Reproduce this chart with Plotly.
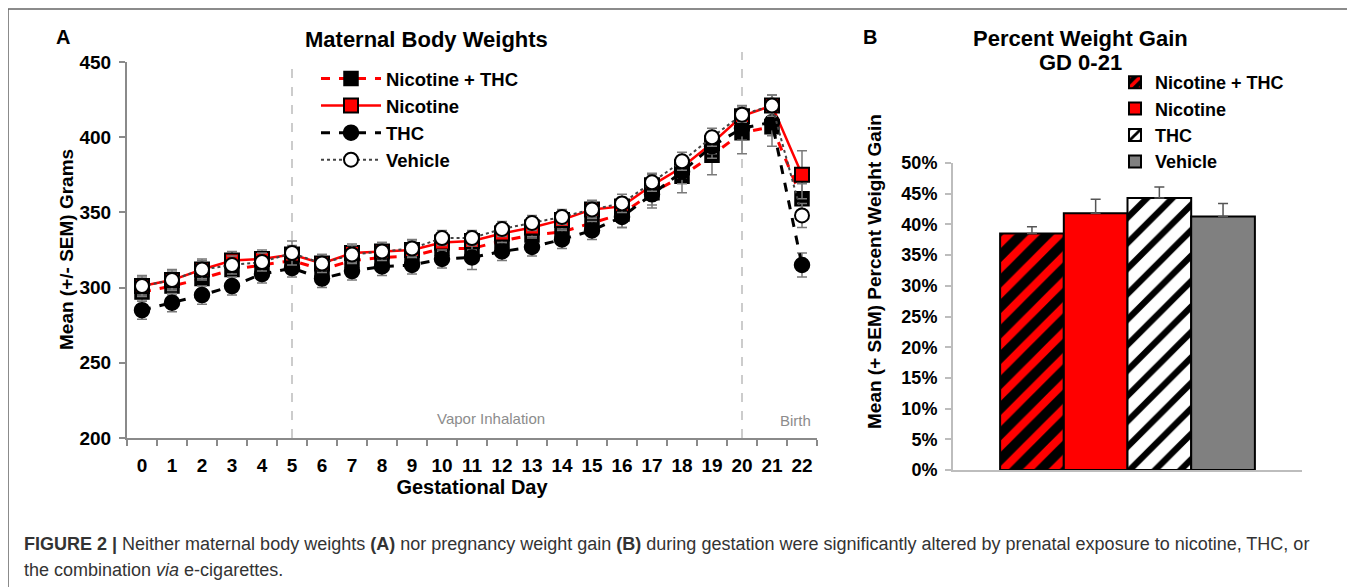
import plotly.graph_objects as go

# Panel A: maternal body weights by gestational day (grams)
days = list(range(23))
nic_thc = [297, 301, 306, 312, 315, 318, 312, 318, 320, 321, 326, 326, 331, 335, 337, 343, 349, 363, 374, 388, 403, 407, 359]
nic_thc_sem = [6, 6, 7, 7, 7, 8, 7, 7, 7, 7, 7, 10, 7, 7, 7, 8, 9, 10, 11, 13, 14, 13, 10]
nicotine = [301, 305, 312, 318, 319, 322, 316, 323, 324, 325, 330, 331, 336, 340, 345, 352, 354, 368, 380, 396, 414, 421, 375]
nicotine_sem = [6, 6, 6, 6, 6, 6, 6, 6, 6, 6, 6, 6, 6, 6, 6, 6, 6, 7, 7, 7, 7, 7, 16]
thc = [285, 290, 295, 301, 309, 313, 306, 311, 314, 315, 319, 320, 324, 327, 332, 338, 347, 362, 377, 394, 406, 410, 315]
thc_sem = [6, 6, 6, 6, 6, 6, 6, 6, 6, 6, 6, 8, 6, 6, 6, 6, 7, 7, 8, 8, 8, 9, 8]
vehicle = [301, 305, 312, 315, 317, 323, 316, 322, 324, 326, 333, 333, 339, 343, 347, 352, 356, 370, 384, 400, 415, 421, 348]
vehicle_sem = [7, 7, 7, 6, 6, 8, 6, 6, 6, 6, 5, 5, 5, 5, 5, 5, 6, 6, 6, 6, 5, 7, 8]

# Panel B: percent weight gain GD 0-21
groups = ["Nicotine + THC", "Nicotine", "THC", "Vehicle"]
pct_gain = [0.385, 0.418, 0.443, 0.413]
pct_sem = [0.011, 0.023, 0.018, 0.021]

W, H = 1355, 587
OFF = 8  # page body margin
FONT = "Liberation Sans, Arial, sans-serif"
AXIS_GRAY = "#8a8a8a"
ERR_GRAY = "#7a7a7a"


def px_x(v):
    return (v - OFF) / W


def px_y(v):
    return 1 - (v - OFF) / H


fig = go.Figure()

series = [
    ("Nicotine + THC", nic_thc, nic_thc_sem, dict(color="#ff0000", width=3, dash="dash"),
     dict(symbol="square", size=14, color="black", line=dict(color="black", width=1.5))),
    ("Nicotine", nicotine, nicotine_sem, dict(color="#ff0000", width=2.5),
     dict(symbol="square", size=14, color="#ff0000", line=dict(color="black", width=2))),
    ("THC", thc, thc_sem, dict(color="black", width=3, dash="dash"),
     dict(symbol="circle", size=15, color="black", line=dict(color="black", width=1.5))),
    ("Vehicle", vehicle, vehicle_sem, dict(color="#444444", width=2, dash="dot"),
     dict(symbol="circle", size=14, color="white", line=dict(color="black", width=2))),
]
for name, vals, sem, line, marker in series:
    fig.add_trace(go.Scatter(
        x=days, y=vals, name=name, mode="lines+markers",
        line=line, marker=marker,
        error_y=dict(type="data", array=sem, color=ERR_GRAY, thickness=1.5, width=5),
        xaxis="x", yaxis="y", legend="legend",
    ))

fills = [
    dict(color="black", pattern=dict(shape="/", fgcolor="#ff0000", bgcolor="black", fgopacity=1, size=18, solidity=0.45)),
    dict(color="#ff0000"),
    dict(color="white", pattern=dict(shape="/", fgcolor="black", bgcolor="white", fgopacity=1, size=18, solidity=0.35)),
    dict(color="#808080"),
]
for name, val, sem, fill in zip(groups, pct_gain, pct_sem, fills):
    fig.add_trace(go.Bar(
        x=["GD 0-21"], y=[val], name=name,
        marker=dict(line=dict(color="black", width=2), **fill),
        error_y=dict(type="data", array=[sem], arrayminus=[0], symmetric=False,
                     color="#555555", thickness=1.5, width=5),
        xaxis="x2", yaxis="y2", legend="legend2",
    ))

tick_a = dict(family=FONT, size=19, color="black", weight="bold")
tick_b = dict(family=FONT, size=18, color="black", weight="bold")

fig.update_layout(
    width=W, height=H, autosize=False,
    margin=dict(l=0, r=0, t=0, b=0, autoexpand=False),
    paper_bgcolor="white", plot_bgcolor="white",
    font=dict(family=FONT, color="black"),
    barmode="group", bargap=0.27, bargroupgap=0,
    xaxis=dict(
        domain=[px_x(127), px_x(817)], range=[-0.5, 22.5], anchor="y", automargin=False,
        tickmode="array", tickvals=days, ticks="", ticklabelstandoff=9,
        tickfont=tick_a, showgrid=False, zeroline=False,
        showline=True, linecolor=AXIS_GRAY, linewidth=2,
        minor=dict(ticks="outside", tick0=-0.5, dtick=1, ticklen=6, tickcolor=AXIS_GRAY, tickwidth=2, showgrid=False),
        title=dict(text="Gestational Day", font=dict(family=FONT, size=20, color="black", weight="bold"), standoff=2),
    ),
    yaxis=dict(
        domain=[px_y(438), px_y(62)], range=[200, 450], dtick=50, anchor="x", automargin=False,
        ticks="outside", ticklen=6, tickcolor=AXIS_GRAY, tickwidth=2,
        ticklabelstandoff=4, tickfont=tick_a, showgrid=False, zeroline=False,
        showline=True, linecolor=AXIS_GRAY, linewidth=2,
    ),
    xaxis2=dict(
        domain=[px_x(953), px_x(1302)], anchor="y2", automargin=False, showticklabels=False, ticks="",
        showline=True, linecolor="#bdbdbd", linewidth=2, showgrid=False, zeroline=False,
    ),
    yaxis2=dict(
        domain=[px_y(470), px_y(163)], range=[0, 0.5], dtick=0.05, tickformat=".0%",
        anchor="x2", automargin=False,
        ticks="outside", ticklen=6, tickcolor="#bdbdbd", tickwidth=2,
        ticklabelstandoff=4, tickfont=tick_b, showgrid=False, zeroline=False,
        showline=True, linecolor="#bdbdbd", linewidth=2,
    ),
    legend=dict(
        x=px_x(316), y=px_y(60), xanchor="left", yanchor="top",
        bgcolor="rgba(0,0,0,0)", font=dict(family=FONT, size=18.5, weight="bold"),
        itemwidth=60, tracegroupgap=0,
    ),
    legend2=dict(
        x=px_x(1115), y=px_y(64), xanchor="left", yanchor="top",
        bgcolor="rgba(0,0,0,0)", font=dict(family=FONT, size=18, weight="bold"),
        itemwidth=30, tracegroupgap=0,
    ),
)


def label(text, x, y, size, color="black", angle=0, xanchor="center"):
    fig.add_annotation(text=text, x=px_x(x), y=px_y(y), xref="paper", yref="paper",
                       xanchor=xanchor, yanchor="middle", textangle=angle, showarrow=False,
                       font=dict(family=FONT, size=size, color=color))


label("<b>A</b>", 63, 37, 20)
label("<b>Maternal Body Weights</b>", 427, 39, 22)
label("<b>B</b>", 870, 37, 20)
label("<b>Percent Weight Gain</b>", 1080, 38, 22)
label("<b>GD 0-21</b>", 1080, 63, 22)
label("<b>Mean (+/- SEM) Grams</b>", 66, 250, 19, angle=-90)
label("<b>Mean (+ SEM) Percent Weight Gain</b>", 874, 272, 19, angle=-90)
label("Vapor Inhalation", 491, 418, 15, color="#8c8c8c")
label("Birth", 795, 420, 15, color="#8c8c8c")

# caption
label("<b>FIGURE 2 |</b> Neither maternal body weights <b>(A)</b> nor pregnancy weight gain <b>(B)</b> during "
      "gestation were significantly altered by prenatal exposure to nicotine, THC, or",
      22, 544, 18, color="#333333", xanchor="left")
label("the combination <i>via</i> e-cigarettes.", 22, 570, 18, color="#333333", xanchor="left")

# phase markers
fig.add_shape(type="line", xref="x", yref="paper", x0=5, x1=5, y0=px_y(438), y1=px_y(63),
              line=dict(color="#999999", width=1, dash="dash"), layer="below")
fig.add_shape(type="line", xref="x", yref="paper", x0=20, x1=20, y0=px_y(438), y1=px_y(52),
              line=dict(color="#999999", width=1, dash="dash"), layer="below")

# outer frame
fig.add_shape(type="rect", xref="paper", yref="paper", x0=px_x(8), x1=1.05, y0=-0.1, y1=px_y(9),
              line=dict(color="#666666", width=1.5))

fig.write_html("out.html")
